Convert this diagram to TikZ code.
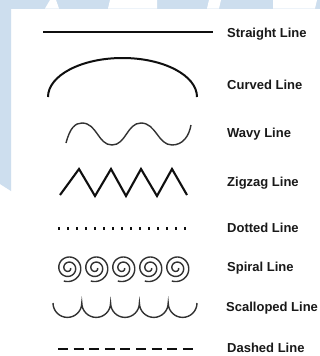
\documentclass[tikz,border=0pt]{standalone}
\usepackage{fontspec}
\setmainfont{Liberation Sans}
\definecolor{wmblue}{RGB}{205,222,238}
\definecolor{txt}{RGB}{25,25,25}
\definecolor{ink}{RGB}{15,15,15}
\definecolor{inkgray}{RGB}{50,50,50}
\begin{document}
\begin{tikzpicture}[x=1pt,y=-1pt,
  lbl/.style={anchor=base west, font=\fontsize{13}{15}\selectfont\bfseries, text=txt, inner sep=0pt},
  heavy/.style={line width=2pt, draw=ink},
  thin/.style={line width=1.4pt, draw=inkgray}]
\useasboundingbox (0,0) rectangle (320,356);
% background and watermark
\fill[white] (0,0) rectangle (320,356);
\fill[wmblue] (0,0) rectangle (320,8.5);
\fill[wmblue] (0,0) -- (11,0) -- (11,191) -- (0,184) -- cycle;
\fill[white] (45,8.5) -- (50,0) -- (56,0) -- (59,8.5) -- cycle;
\fill[white] (108,8.5) -- (110,0) -- (157,0) -- (157,8.5) -- cycle;
\fill[white] (207,8.5) -- (209,0) -- (221,0) -- (219,8.5) -- cycle;
\fill[white] (273,8.5) -- (273,0) -- (317,0) -- (315,8.5) -- cycle;
% straight
\draw[heavy] (43,32) -- (213,32);
% curved
\draw[heavy] (48,97) arc[start angle=180, end angle=0, x radius=74.5pt, y radius=39pt];
% wavy
\draw[thin] (66,143) .. controls (70,128) and (75,123) .. (82,123)
  .. controls (97,123) and (98,145) .. (112,145)
  .. controls (126,145) and (127,123) .. (141,123)
  .. controls (156,123) and (158,145) .. (172,145)
  .. controls (183,145) and (189,136) .. (191,125);
% zigzag
\draw[heavy, line width=2.1pt] (60,195) -- (79,169) -- (95,196) -- (111,169) -- (126,196) -- (141,169) -- (157,196) -- (172,169) -- (187,195);
% dotted
\foreach \i in {0,...,14} \fill[ink] ({58+9*\i},227) rectangle ++(2,2.5);
% spirals
\foreach \c in {68.5,95.5,122.5,149.5,176.5}
  \draw[thin] plot[domain=0:830, samples=130, smooth, variable=\t]
    ({\c + (2+11.8*\t/830)*cos(\t)}, {268 + (2+11.8*\t/830)*sin(\t)});
% scalloped
\draw[thin] (53,303) arc[start angle=180, end angle=360, radius=14.4pt]
  arc[start angle=180, end angle=360, radius=14.4pt]
  arc[start angle=180, end angle=360, radius=14.4pt]
  arc[start angle=180, end angle=360, radius=14.4pt]
  arc[start angle=180, end angle=360, radius=14.4pt];
% dashed
\draw[line width=2.5pt, draw=ink, dash pattern=on 10pt off 5.6pt] (58,349) -- (193,349);
% labels
\node[lbl] (l1) at (227,37.5) {Straight Line};
\node[lbl] (l2) at (227,89.5) {Curved Line};
\node[lbl] (l3) at (227,137.5) {Wavy Line};
\node[lbl] (l4) at (227,186.5) {Zigzag Line};
\node[lbl] (l5) at (227,232.5) {Dotted Line};
\node[lbl] (l6) at (227,271.5) {Spiral Line};
\node[lbl] (l7) at (226,311.5) {Scalloped Line};
\node[lbl] (l8) at (227,352.5) {Dashed Line};
\end{tikzpicture}
\end{document}
